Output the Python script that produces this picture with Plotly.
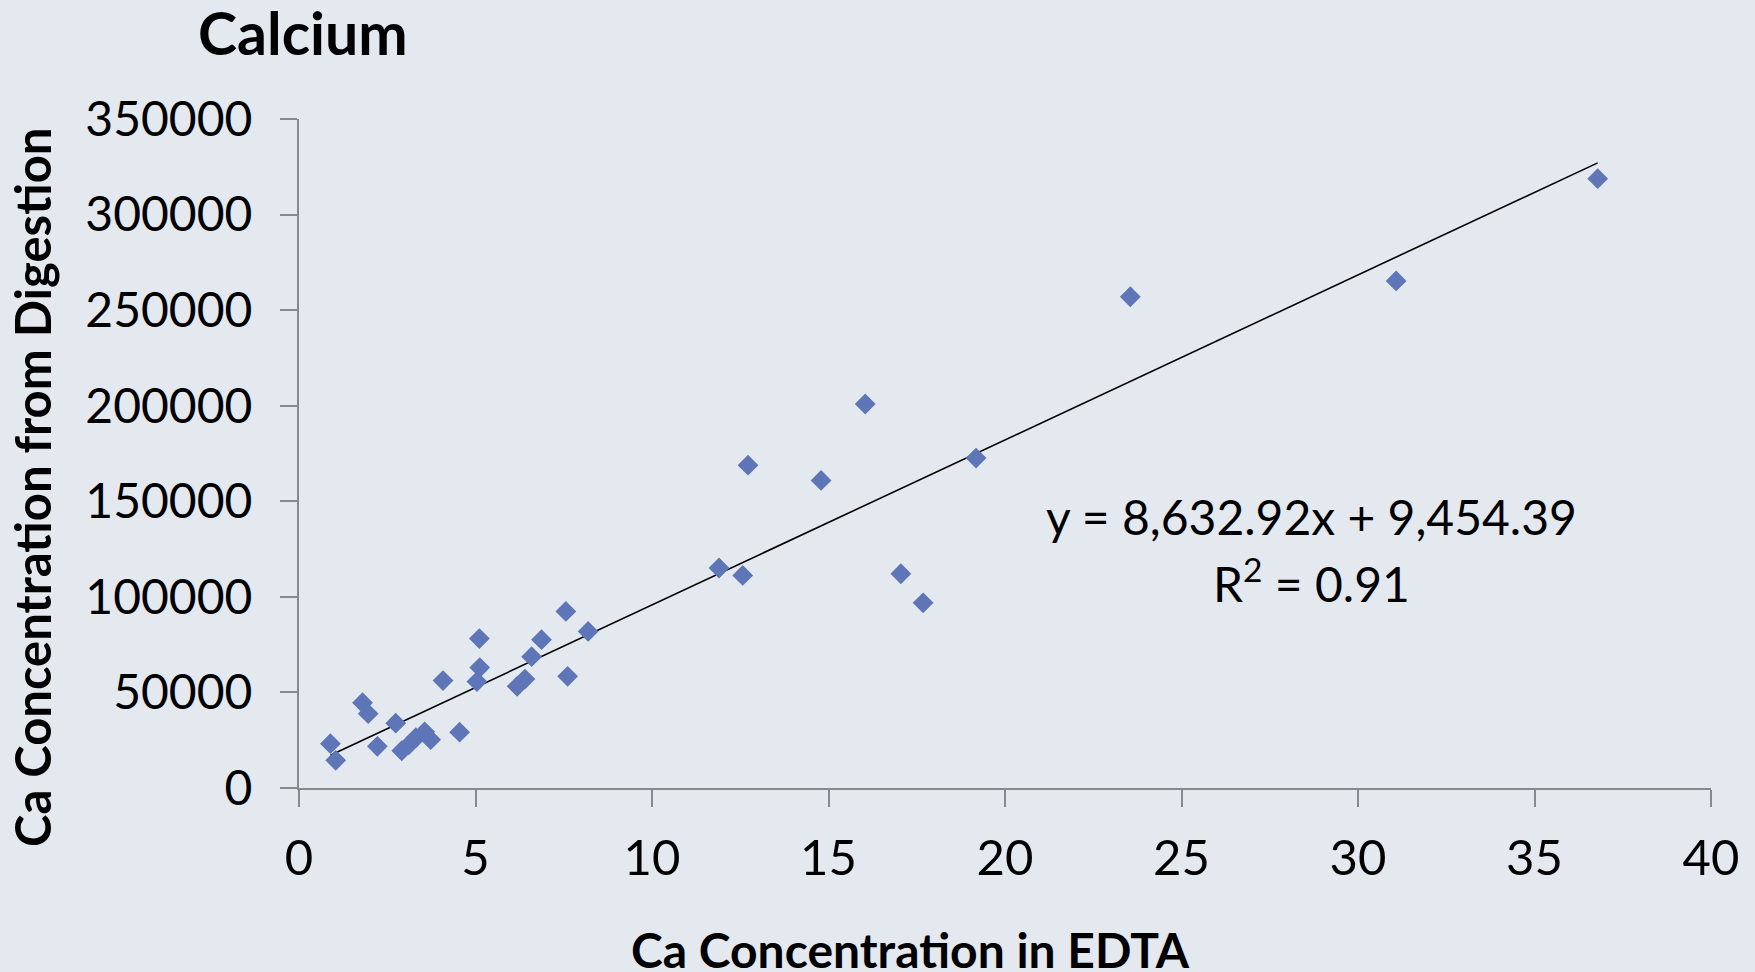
import plotly.graph_objects as go

# Ca measured in EDTA extract (x) vs. Ca from full digestion (y)
ca_edta = [0.89, 1.04, 1.80, 1.96, 2.22, 2.74, 2.91, 3.11, 3.31, 3.56, 3.73,
           4.55, 4.08, 5.11, 5.12, 5.04, 6.18, 6.40, 6.59, 6.87, 7.56, 7.61,
           8.19, 11.90, 12.57, 12.72, 14.79, 16.04, 17.05, 17.68, 19.18,
           23.55, 31.08, 36.79]
ca_digest = [23200, 14500, 44600, 38900, 21800, 33900, 19500, 22600, 26300,
             29400, 25300, 29200, 56200, 78200, 63000, 55700, 53200, 57000,
             68700, 77600, 92400, 58400, 81900, 115100, 111200, 168900,
             160900, 200900, 112100, 96900, 172600, 257000, 265300, 318800]

# Linear fit reported on the chart
slope = 8632.92
intercept = 9454.39
r_squared = 0.91

x_ticks = [0, 5, 10, 15, 20, 25, 30, 35, 40]
y_ticks = [0, 50000, 100000, 150000, 200000, 250000, 300000, 350000]

BG = "#E4E9F0"
AXIS = "#898989"
FONT = "Lato"

x_fit = [min(ca_edta), max(ca_edta)]
y_fit = [slope * v + intercept for v in x_fit]

fig = go.Figure()
fig.add_trace(go.Scatter(
    x=x_fit, y=y_fit, mode="lines",
    line=dict(color="black", width=1.6),
    hoverinfo="skip", showlegend=False,
))
fig.add_trace(go.Scatter(
    x=ca_edta, y=ca_digest, mode="markers",
    marker=dict(symbol="diamond", size=16, color="#5E76B8", line=dict(width=0)),
    cliponaxis=False, showlegend=False,
))

fig.update_layout(
    width=1755, height=972,
    margin=dict(l=299, r=44, t=119, b=184),
    paper_bgcolor=BG, plot_bgcolor=BG,
    font=dict(family=FONT, color="black", size=47),
    xaxis=dict(
        range=[0, 40], tickvals=x_ticks, showgrid=False, zeroline=False,
        showline=True, linecolor=AXIS, linewidth=2.3,
        ticks="outside", ticklen=17, tickwidth=1.5, tickcolor=AXIS,
        ticklabelstandoff=9, tickfont=dict(size=49, family=FONT),
    ),
    yaxis=dict(
        range=[0, 350000], tickvals=y_ticks, tickformat="d",
        showgrid=False, zeroline=False,
        showline=True, linecolor=AXIS, linewidth=2,
        ticks="outside", ticklen=17, tickwidth=1.5, tickcolor=AXIS,
        ticklabelstandoff=18, tickfont=dict(size=48, family=FONT),
    ),
    annotations=[
        dict(text="<b>Calcium</b>", xref="paper", yref="paper",
             x=0.0026, y=1.129, xanchor="center", yanchor="middle",
             showarrow=False, font=dict(size=59, family=FONT)),
        dict(text="<b>Ca Concentration in EDTA</b>", xref="paper", yref="paper",
             x=0.4334, y=-0.2415, xanchor="center", yanchor="middle",
             showarrow=False, font=dict(size=48, family=FONT)),
        dict(text="<b>Ca Concentration from Digestion</b>", xref="paper", yref="paper",
             x=-0.189, y=0.4487, xanchor="center", yanchor="middle",
             textangle=-90, showarrow=False, font=dict(size=49, family=FONT)),
        dict(text=f"y = {slope:,.2f}x + {intercept:,.2f}", xref="x", yref="y",
             x=28.67, y=142200, xanchor="center", yanchor="middle",
             showarrow=False, font=dict(size=48, family=FONT)),
        dict(text=f"R<sup>2</sup> = {r_squared:.2f}", xref="x", yref="y",
             x=28.67, y=108800, xanchor="center", yanchor="middle",
             showarrow=False, font=dict(size=48, family=FONT)),
    ],
)

fig.write_html("out.html")
